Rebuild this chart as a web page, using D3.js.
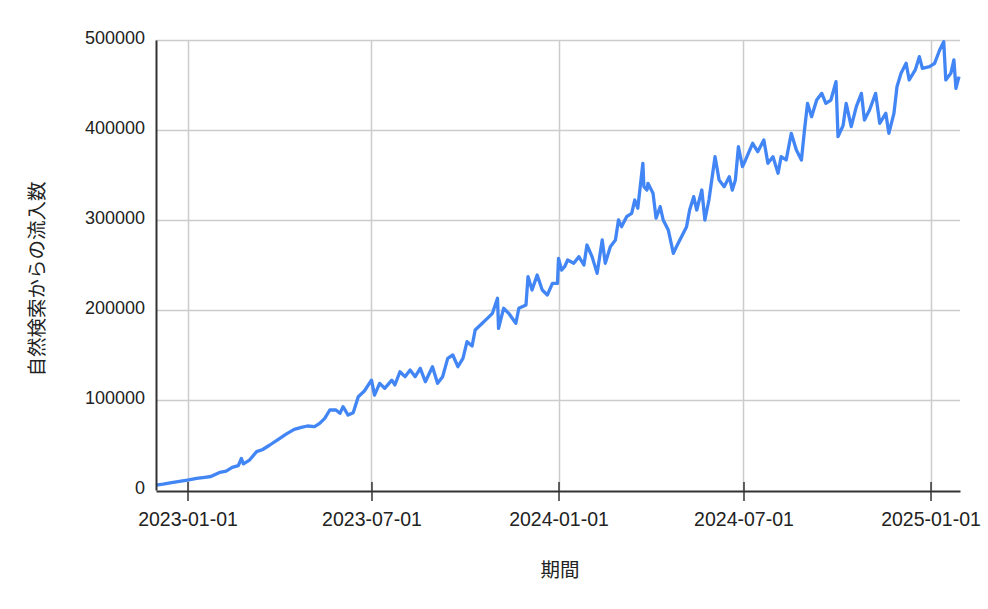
<!DOCTYPE html>
<html>
<head>
<meta charset="utf-8">
<script src="https://cdn.jsdelivr.net/npm/d3@7"></script>
<style>
  html, body { margin: 0; padding: 0; background: #fff; }
  svg { display: block; }
</style>
</head>
<body>
<svg id="chart" width="988" height="609"></svg>
<script>
// ---- data ----
const dates = [
  "2022-12-01","2022-12-08","2022-12-15","2022-12-24","2023-01-01","2023-01-10","2023-01-18","2023-01-24",
  "2023-02-02","2023-02-08","2023-02-14","2023-02-20","2023-02-23","2023-02-25","2023-03-03","2023-03-10",
  "2023-03-16","2023-03-23","2023-03-31","2023-04-08","2023-04-16","2023-04-23","2023-04-29","2023-05-06",
  "2023-05-11","2023-05-16","2023-05-21","2023-05-27","2023-05-31","2023-06-03","2023-06-08","2023-06-13",
  "2023-06-18","2023-06-24","2023-07-01","2023-07-04","2023-07-09","2023-07-14","2023-07-21","2023-07-24",
  "2023-07-29","2023-08-03","2023-08-08","2023-08-13","2023-08-18","2023-08-23","2023-08-30","2023-09-04",
  "2023-09-09","2023-09-14","2023-09-19","2023-09-24","2023-09-29","2023-10-03","2023-10-08","2023-10-11",
  "2023-10-18","2023-10-23","2023-10-28","2023-11-02","2023-11-03","2023-11-08","2023-11-13","2023-11-20",
  "2023-11-23","2023-11-30","2023-12-02","2023-12-06","2023-12-11","2023-12-16","2023-12-21","2023-12-26",
  "2023-12-31","2024-01-01","2024-01-04","2024-01-07","2024-01-10","2024-01-16","2024-01-21","2024-01-26",
  "2024-01-29","2024-02-03","2024-02-08","2024-02-13","2024-02-16","2024-02-21","2024-02-26","2024-02-29",
  "2024-03-03","2024-03-08","2024-03-13","2024-03-16","2024-03-19","2024-03-24","2024-03-25","2024-03-28",
  "2024-03-29","2024-04-03","2024-04-06","2024-04-10","2024-04-13","2024-04-18","2024-04-23","2024-04-26",
  "2024-05-01","2024-05-06","2024-05-09","2024-05-13","2024-05-16","2024-05-21","2024-05-24","2024-05-28",
  "2024-06-03","2024-06-07","2024-06-12","2024-06-17","2024-06-20","2024-06-23","2024-06-26","2024-06-30",
  "2024-07-03","2024-07-10","2024-07-15","2024-07-21","2024-07-25","2024-07-30","2024-08-04","2024-08-07",
  "2024-08-12","2024-08-17","2024-08-22","2024-08-27","2024-08-30","2024-09-02","2024-09-06","2024-09-11",
  "2024-09-16","2024-09-20","2024-09-25","2024-09-30","2024-10-02","2024-10-07","2024-10-10","2024-10-15",
  "2024-10-20","2024-10-25","2024-10-28","2024-11-02","2024-11-08","2024-11-12","2024-11-18","2024-11-21",
  "2024-11-26","2024-11-29","2024-12-03","2024-12-08","2024-12-11","2024-12-17","2024-12-21","2024-12-24",
  "2024-12-31","2025-01-05","2025-01-10","2025-01-14","2025-01-16","2025-01-21","2025-01-24","2025-01-26",
  "2025-01-29"
];
const visits = [
  5500, 6500, 8000, 9500, 11000, 12800, 14000, 15000,
  19700, 21000, 25200, 27000, 35000, 29000, 33300, 42600,
  45000, 50000, 56000, 62000, 67400, 69500, 71100, 70400,
  74000, 79600, 88900, 89000, 85200, 92600, 83300, 85900,
  103700, 110000, 122000, 105500, 118500, 113000, 122000, 116700,
  131400, 125900, 133300, 125900, 135200, 120300, 137000, 118500,
  125900, 146300, 150000, 137000, 146300, 164800, 160000, 177800,
  185200, 190700, 196300, 213000, 179600, 201900, 196300, 185200,
  201900, 205500, 237000, 222200, 238900, 222200, 216700, 229600,
  229600, 257400, 244400, 248100, 255500, 251900, 259300, 250000,
  272200, 259300, 240700, 277800, 251900, 270300, 277800, 300000,
  292600, 303700, 307400, 322200, 313000, 363000, 337000, 333300,
  340700, 329600, 302000, 314800, 300000, 288900, 263000, 270300,
  281400, 292600, 311100, 325900, 311100, 333300, 300000, 322200,
  370300, 344400, 337000, 348100, 333300, 344400, 381400, 359300,
  366700, 385200, 375900, 388900, 363000, 370300, 351900, 370300,
  366700, 396300, 377800, 366700, 400000, 429600, 414800, 433300,
  440700, 429600, 433300, 453700, 392600, 405000, 429600, 403700,
  425900, 440700, 411100, 422200, 440700, 407400, 418500, 396300,
  418500, 448100, 463000, 474100, 455600, 466700, 481500, 468500,
  470400, 474100, 488900, 498100, 455600, 463000, 477800, 446300,
  459300
];
const xTickLabels = ["2023-01-01", "2023-07-01", "2024-01-01", "2024-07-01", "2025-01-01"];
const yTickValues = [0, 100000, 200000, 300000, 400000, 500000];
const xDomain = ["2022-12-01", "2025-01-30"];
const yTitle = "自然検索からの流入数";
const xTitle = "期間";

// ---- layout ----
const W = 988, H = 609;
const mLeft = 156, mRight = 960, mTop = 40, mBottom = 490;
const parse = d3.utcParse("%Y-%m-%d");
const data = dates.map((d, i) => ({ date: parse(d), value: visits[i] }));

const svg = d3.select("#chart");
svg.append("rect").attr("width", W).attr("height", H).attr("fill", "#fff");

const x = d3.scaleUtc().domain(xDomain.map(parse)).range([mLeft, mRight]);
const y = d3.scaleLinear().domain([0, 500000]).range([mBottom, mTop]);

const textFont = "'Liberation Sans', Arial, sans-serif";
const cjkFont = "'Noto Sans CJK JP', 'Noto Sans CJK SC', sans-serif";

// grid
const grid = svg.append("g");
grid.selectAll("line.h").data(yTickValues.filter(v => v > 0)).enter().append("line")
  .attr("x1", mLeft).attr("x2", mRight)
  .attr("y1", d => Math.round(y(d)) + 0.5).attr("y2", d => Math.round(y(d)) + 0.5)
  .attr("stroke", "#cccccc").attr("stroke-width", 1.5);
grid.selectAll("line.v").data(xTickLabels.map(parse)).enter().append("line")
  .attr("x1", d => Math.round(x(d)) + 0.5).attr("x2", d => Math.round(x(d)) + 0.5)
  .attr("y1", mTop).attr("y2", mBottom)
  .attr("stroke", "#cccccc").attr("stroke-width", 1.5);

// line
const line = d3.line().x(d => x(d.date)).y(d => y(d.value));
svg.append("path").datum(data)
  .attr("d", line)
  .attr("fill", "none")
  .attr("stroke", "#4285f4")
  .attr("stroke-width", 3.3)
  .attr("stroke-linejoin", "round");

// y axis
const yAxis = d3.axisLeft(y).tickValues(yTickValues).tickSize(0).tickPadding(11)
  .tickFormat(d3.format("d"));
const gy = svg.append("g").attr("transform", `translate(${mLeft},0)`).call(yAxis);
gy.select(".domain").attr("stroke", "#333").attr("stroke-width", 2);
gy.selectAll("text").attr("font-family", textFont).attr("font-size", 18).attr("fill", "#222").attr("dy", "0.2em");

// x axis
const xAxis = d3.axisBottom(x).tickValues(xTickLabels.map(parse)).tickSizeInner(10).tickSizeOuter(0)
  .tickPadding(11).tickFormat(d3.utcFormat("%Y-%m-%d"));
const gx = svg.append("g").attr("transform", `translate(0,${mBottom + 1})`).call(xAxis);
gx.select(".domain").attr("stroke", "#333").attr("stroke-width", 2);
gx.selectAll(".tick line").attr("stroke", "#333").attr("stroke-width", 1.5).attr("y1", -9);
gx.selectAll("text").attr("font-family", textFont).attr("font-size", 19.5).attr("fill", "#222");

// titles
svg.append("text")
  .attr("x", (mLeft + mRight) / 2 + 2).attr("y", 577)
  .attr("text-anchor", "middle")
  .attr("font-family", cjkFont).attr("font-size", 19.5).attr("fill", "#222")
  .text(xTitle);
svg.append("text")
  .attr("transform", `translate(44,279) rotate(-90)`)
  .attr("text-anchor", "middle")
  .attr("font-family", cjkFont).attr("font-size", 19.5).attr("fill", "#222")
  .text(yTitle);
</script>
</body>
</html>
